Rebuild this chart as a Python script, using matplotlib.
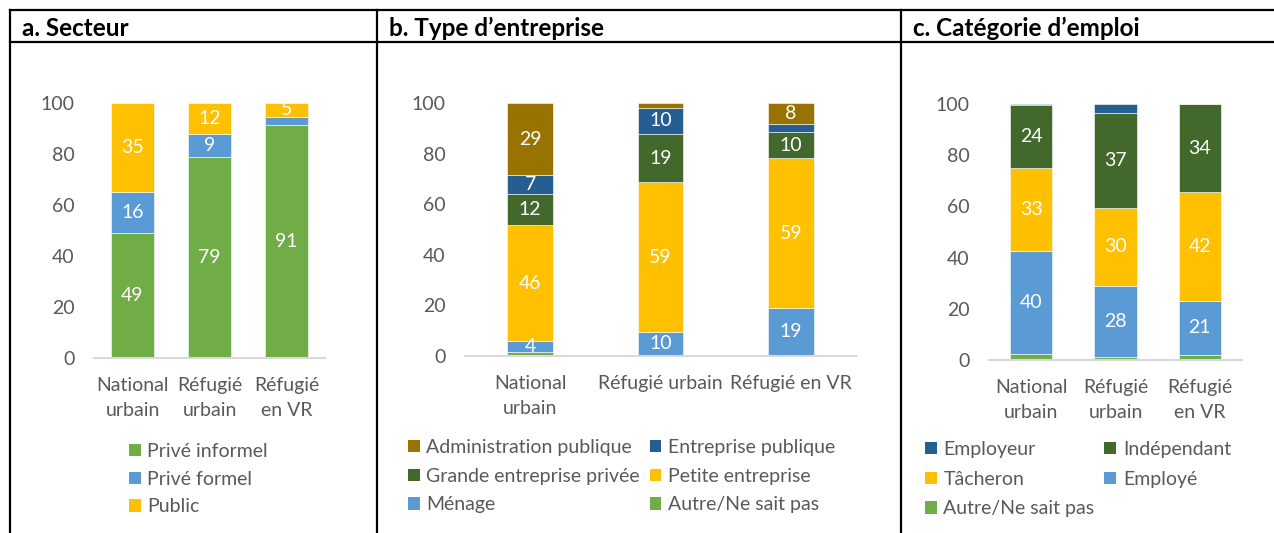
import numpy as np
import matplotlib.pyplot as plt
from matplotlib.patches import Patch

plt.rcParams['font.family'] = ['Lato', 'DejaVu Sans']

W, H = 1274, 533
GREY = '#595959'

# Groupes (axe des x)
groups_a = ['National\nurbain', 'Réfugié\nurbain', 'Réfugié\nen VR']
groups_b = ['National\nurbain', 'Réfugié urbain', 'Réfugié en VR']
groups_c = ['National\nurbain', 'Réfugié\nurbain', 'Réfugié\nen VR']

# a. Secteur (du bas vers le haut)
secteur_labels = ['Privé informel', 'Privé formel', 'Public']
prive_informel = [49, 79, 91.2]
prive_formel = [16, 9, 3.5]
public = [35, 12, 5.3]

# b. Type d'entreprise (du bas vers le haut)
autre_b = [1.7, 0, 0]
menage = [4.2, 9.6, 19.0]
petite = [45.8, 59.0, 59.2]
grande = [12.3, 19.3, 10.3]
ent_publique = [7.4, 10.0, 3.1]
admin_publique = [28.6, 2.1, 8.4]

# c. Catégorie d'emploi (du bas vers le haut)
autre_c = [2.2, 1.3, 2.1]
employe = [40.2, 27.7, 21.1]
tacheron = [32.7, 30.4, 42.4]
independant = [24.4, 37.0, 34.4]
employeur = [0.5, 3.6, 0]

C_LGREEN = '#70AD47'
C_LBLUE = '#5B9BD5'
C_YELLOW = '#FFC000'
C_DGREEN = '#43682B'
C_DBLUE = '#255E91'
C_BROWN = '#997300'

fig = plt.figure(figsize=(W / 100, H / 100), dpi=100)

# fond : lignes du tableau + en-têtes
bg = fig.add_axes([0, 0, 1, 1])
bg.set_xlim(0, W)
bg.set_ylim(H, 0)
bg.axis('off')
lw = 1.6
bg.plot([10, W], [10, 10], color='black', lw=lw)
bg.plot([10, W], [42, 42], color='black', lw=lw)
for x in [10, 377, 901]:
    bg.plot([x, x], [10, H], color='black', lw=lw)
hdr = dict(fontsize=17.5, fontweight='bold', va='center', ha='left', color='black')
bg.text(22, 28, 'a. Secteur', **hdr)
bg.text(389, 28, 'b. Type d’entreprise', **hdr)
bg.text(913, 28, 'c. Catégorie d’emploi', **hdr)


def make_ax(left, right, bottom, top):
    ax = fig.add_axes([left / W, 1 - bottom / H, (right - left) / W, (bottom - top) / H])
    ax.set_xlim(-0.5, 2.5)
    ax.set_ylim(0, 100)
    for s in ['top', 'right', 'left']:
        ax.spines[s].set_visible(False)
    ax.spines['bottom'].set_color('#D9D9D9')
    ax.spines['bottom'].set_linewidth(1.5)
    ax.set_yticks([0, 20, 40, 60, 80, 100])
    ax.tick_params(axis='y', length=0, pad=14, labelsize=14, labelcolor=GREY)
    ax.tick_params(axis='x', length=0, pad=14, labelsize=14, labelcolor=GREY)
    ax.patch.set_alpha(0)
    return ax


def stack(ax, groups, series, colors, width):
    x = np.arange(len(groups))
    bottom = np.zeros(len(groups))
    for vals, col in zip(series, colors):
        vals = np.array(vals, dtype=float)
        ax.bar(x, vals, width, bottom=bottom, color=col, edgecolor='white', linewidth=0.4)
        for xi, v, b in zip(x, vals, bottom):
            if v >= 4:
                ax.text(xi, b + v / 2, f'{round(v)}', ha='center', va='center',
                        color='white', fontsize=14)
        bottom += vals
    ax.set_xticks(x)
    ax.set_xticklabels(groups, linespacing=1.55)


def leg(ax, labels, colors, x, y, ncol, spacing):
    handles = [Patch(facecolor=c, edgecolor='none') for c in colors]
    l = ax.legend(handles, labels, loc='upper left', bbox_to_anchor=(x / W, 1 - y / H),
                  bbox_transform=fig.transFigure, frameon=False, ncol=ncol,
                  fontsize=14, handlelength=0.6, handleheight=0.6,
                  handletextpad=0.35, columnspacing=0.5, labelspacing=spacing,
                  borderpad=0, borderaxespad=0)
    for t in l.get_texts():
        t.set_color(GREY)


# a
ax_a = make_ax(94, 325, 358, 103)
stack(ax_a, groups_a, [prive_informel, prive_formel, public],
      [C_LGREEN, C_LBLUE, C_YELLOW], 0.56)
leg(ax_a, secteur_labels, [C_LGREEN, C_LBLUE, C_YELLOW], 129, 443, 1, 0.55)

# b
ax_b = make_ax(465, 856, 356, 103)
stack(ax_b, groups_b, [autre_b, menage, petite, grande, ent_publique, admin_publique],
      [C_LGREEN, C_LBLUE, C_YELLOW, C_DGREEN, C_DBLUE, C_BROWN], 0.35)
leg(ax_b, ['Administration publique', 'Grande entreprise privée', 'Ménage',
           'Entreprise publique', 'Petite entreprise', 'Autre/Ne sait pas'],
    [C_BROWN, C_DGREEN, C_LBLUE, C_DBLUE, C_YELLOW, C_LGREEN], 408, 439, 2, 0.6)

# c
ax_c = make_ax(989, 1242, 360, 104)
stack(ax_c, groups_c, [autre_c, employe, tacheron, independant, employeur],
      [C_LGREEN, C_LBLUE, C_YELLOW, C_DGREEN, C_DBLUE], 0.5)
leg(ax_c, ['Employeur', 'Tâcheron', 'Autre/Ne sait pas', 'Indépendant', 'Employé'],
    [C_DBLUE, C_YELLOW, C_LGREEN, C_DGREEN, C_LBLUE], 925, 441, 2, 0.65)

plt.savefig('out.png', dpi=100)
